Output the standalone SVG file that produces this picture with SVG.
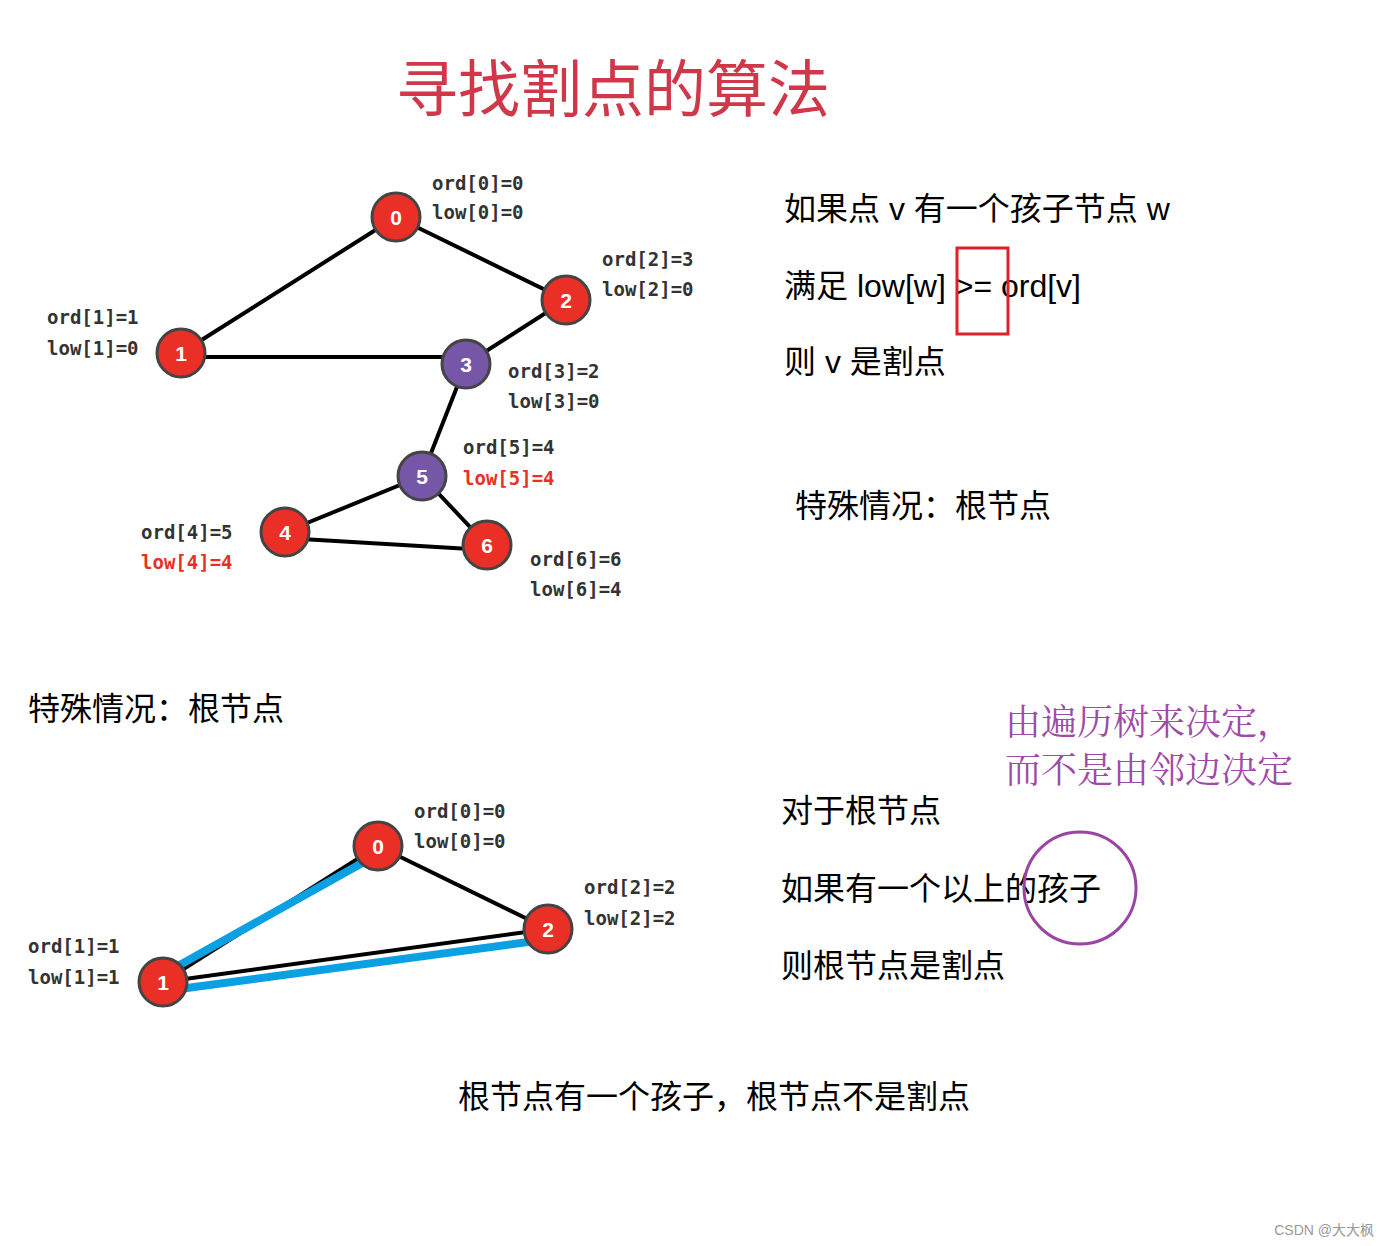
<svg xmlns="http://www.w3.org/2000/svg" width="1390" height="1246" viewBox="0 0 1390 1246">
<style>
.e{stroke:#000;stroke-width:4;fill:none}
.b{stroke:#0aa0e2;stroke-width:8;stroke-linecap:round;fill:none}
.r circle{fill:#ea2f26;stroke:#444;stroke-width:3}
.p circle{fill:#7656a6;stroke:#444;stroke-width:3}
.n text{fill:#fff;font:bold 21px "Liberation Sans",Arial,sans-serif;text-anchor:middle}
.l{font:bold 19px "DejaVu Sans Mono",monospace;fill:#333}
.red{fill:#ea2f26}
.t{font:32px "Liberation Sans","Noto Sans CJK SC",sans-serif;fill:#000}
.pu{font:36px "Liberation Serif","Noto Serif CJK SC","Noto Sans CJK SC",serif;fill:#a04aa8}
</style>
<rect width="1390" height="1246" fill="#fff"/>
<text x="396" y="112" font-family="Noto Sans CJK SC,sans-serif" font-size="62" fill="#d0384a">寻找割点的算法</text>
<g id="connectors">
<line class="e" x1="396" y1="217" x2="181" y2="353"/>
<line class="e" x1="396" y1="217" x2="566" y2="300"/>
<line class="e" x1="181" y1="357" x2="466" y2="357"/>
<line class="e" x1="566" y1="300" x2="466" y2="364"/>
<line class="e" x1="466" y1="364" x2="422" y2="476"/>
<line class="e" x1="422" y1="476" x2="285" y2="532"/>
<line class="e" x1="422" y1="476" x2="487" y2="545"/>
<line class="e" x1="285" y1="538" x2="487" y2="550"/>
<line class="e" x1="378" y1="846" x2="163" y2="982"/>
<line class="e" x1="378" y1="846" x2="548" y2="929"/>
<line class="e" x1="163" y1="982" x2="548" y2="929"/>
<line class="b" x1="178" y1="966" x2="364" y2="862"/>
<line class="b" x1="187" y1="988" x2="528" y2="942"/>
</g>
<g id="n0" class="n r"><circle cx="396" cy="217" r="24"/><text x="396" y="225">0</text></g>
<g id="n1" class="n r"><circle cx="181" cy="353" r="24"/><text x="181" y="361">1</text></g>
<g id="n2" class="n r"><circle cx="566" cy="300" r="24"/><text x="566" y="308">2</text></g>
<g id="n3" class="n p"><circle cx="466" cy="364" r="24"/><text x="466" y="372">3</text></g>
<g id="n5" class="n p"><circle cx="422" cy="476" r="24"/><text x="422" y="484">5</text></g>
<g id="n4" class="n r"><circle cx="285" cy="532" r="24"/><text x="285" y="540">4</text></g>
<g id="n6" class="n r"><circle cx="487" cy="545" r="24"/><text x="487" y="553">6</text></g>
<g id="m0" class="n r"><circle cx="378" cy="846" r="24"/><text x="378" y="854">0</text></g>
<g id="m1" class="n r"><circle cx="163" cy="982" r="24"/><text x="163" y="990">1</text></g>
<g id="m2" class="n r"><circle cx="548" cy="929" r="24"/><text x="548" y="937">2</text></g>
<g id="labels">
<text class="l" x="432" y="190">ord[0]=0</text><text class="l" x="432" y="219">low[0]=0</text>
<text class="l" x="602" y="266">ord[2]=3</text><text class="l" x="602" y="296">low[2]=0</text>
<text class="l" x="47" y="324">ord[1]=1</text><text class="l" x="47" y="355">low[1]=0</text>
<text class="l" x="508" y="378">ord[3]=2</text><text class="l" x="508" y="408">low[3]=0</text>
<text class="l" x="463" y="454">ord[5]=4</text><text class="l red" x="463" y="485">low[5]=4</text>
<text class="l" x="141" y="539">ord[4]=5</text><text class="l red" x="141" y="569">low[4]=4</text>
<text class="l" x="530" y="566">ord[6]=6</text><text class="l" x="530" y="596">low[6]=4</text>
<text class="l" x="414" y="818">ord[0]=0</text><text class="l" x="414" y="848">low[0]=0</text>
<text class="l" x="584" y="894">ord[2]=2</text><text class="l" x="584" y="925">low[2]=2</text>
<text class="l" x="28" y="953">ord[1]=1</text><text class="l" x="28" y="984">low[1]=1</text>
</g>
<g id="text">
<text class="t" x="784" y="220">如果点 v 有一个孩子节点 w</text>
<text class="t" x="784" y="297">满足 low[w] &gt;= ord[v]</text>
<rect x="957" y="248" width="51" height="86" fill="none" stroke="#e0202a" stroke-width="3"/>
<text class="t" x="784" y="373">则 v 是割点</text>
<text class="t" x="795" y="517">特殊情况：根节点</text>
<text class="t" x="28" y="720">特殊情况：根节点</text>
<text class="pu" x="1005" y="735">由遍历树来决定，</text>
<text class="pu" x="1005" y="783">而不是由邻边决定</text>
<text class="t" x="781" y="822">对于根节点</text>
<text class="t" x="781" y="900">如果有一个以上的孩子</text>
<circle cx="1080" cy="888" r="56" fill="none" stroke="#9a45a4" stroke-width="3"/>
<text class="t" x="781" y="977">则根节点是割点</text>
<text class="t" x="458" y="1108">根节点有一个孩子，根节点不是割点</text>
<text x="1374" y="1235" text-anchor="end" font-family="Liberation Sans,Noto Sans CJK SC,sans-serif" font-size="14" fill="#999">CSDN @大大枫</text>
</g>
</svg>
